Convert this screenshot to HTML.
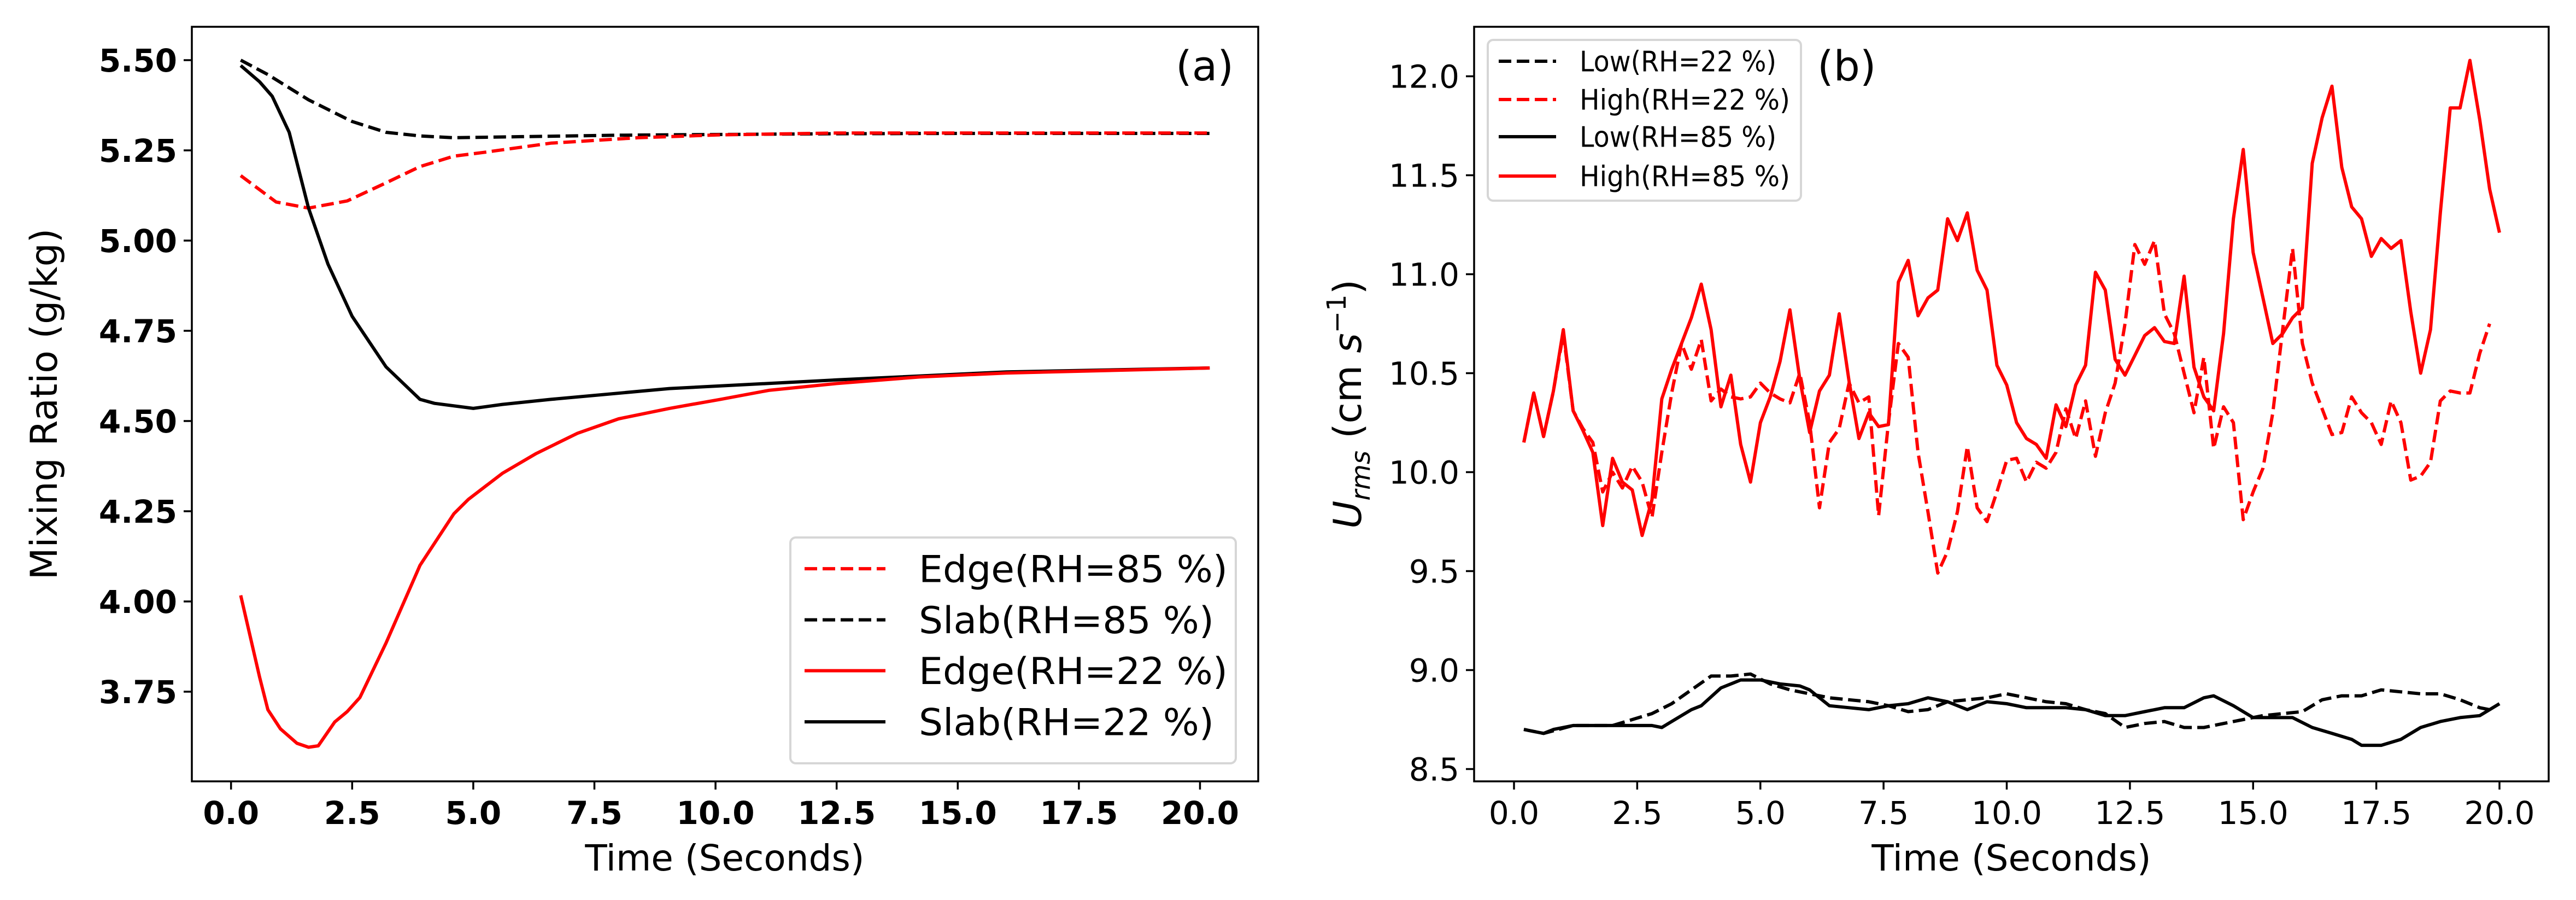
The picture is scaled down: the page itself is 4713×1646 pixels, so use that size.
<!DOCTYPE html>
<html><head><meta charset="utf-8"><style>
html,body{margin:0;padding:0;background:#fff;}
svg{display:block;}
text{font-family:"DejaVu Sans","Liberation Sans",sans-serif;}
</style></head><body>
<svg id="fig" width="4713" height="1646" viewBox="0 0 4713 1646" xmlns="http://www.w3.org/2000/svg"></svg>
<script>
// ---- Panel (a) data ----
const aSlab85T=[0.2,0.76,1.6,2.5,3.2,3.9,4.6,6,8,10,12.5,15,17.5,20.2];
const aSlab85V=[5.50,5.46,5.39,5.33,5.30,5.29,5.285,5.288,5.292,5.294,5.296,5.297,5.297,5.297];
const aEdge85T=[0.2,0.93,1.6,2.4,3.2,3.9,4.6,5.25,6.6,8.4,10.1,12.5,15,17.5,20.2];
const aEdge85V=[5.18,5.107,5.09,5.11,5.16,5.205,5.234,5.245,5.27,5.285,5.293,5.298,5.298,5.298,5.298];
const aSlab22T=[0.2,0.59,0.85,1.2,1.6,2.0,2.5,3.2,3.9,4.2,5.0,5.6,6.6,9.05,12.5,16,20.2];
const aSlab22V=[5.485,5.44,5.40,5.30,5.09,4.935,4.79,4.65,4.56,4.549,4.535,4.546,4.56,4.59,4.614,4.636,4.647];
const aEdge22T=[0.2,0.59,0.76,1.02,1.36,1.6,1.8,2.14,2.4,2.66,3.2,3.9,4.6,4.9,5.6,6.3,7.15,8,9.05,10.1,11.1,12.5,14.2,16,20.2];
const aEdge22V=[4.017,3.79,3.70,3.647,3.607,3.596,3.60,3.666,3.695,3.734,3.885,4.10,4.243,4.283,4.355,4.41,4.466,4.506,4.535,4.56,4.585,4.604,4.622,4.633,4.647];
const aXTicks=[0,2.5,5,7.5,10,12.5,15,17.5,20];
const aXLabels=["0.0","2.5","5.0","7.5","10.0","12.5","15.0","17.5","20.0"];
const aYTicks=[3.75,4.0,4.25,4.5,4.75,5.0,5.25,5.5];
const aYLabels=["3.75","4.00","4.25","4.50","4.75","5.00","5.25","5.50"];
// ---- Panel (b) data ----
const bHigh85=[10.15,10.40,10.18,10.41,10.72,10.31,10.21,10.10,9.73,10.07,9.95,9.91,9.68,9.86,10.37,10.52,10.65,10.78,10.95,10.72,10.33,10.49,10.14,9.95,10.25,10.38,10.56,10.82,10.47,10.20,10.41,10.49,10.80,10.46,10.17,10.30,10.23,10.24,10.96,11.07,10.79,10.88,10.92,11.28,11.17,11.31,11.02,10.92,10.54,10.44,10.25,10.17,10.14,10.07,10.34,10.23,10.44,10.54,11.01,10.92,10.57,10.49,10.59,10.69,10.73,10.66,10.65,10.99,10.53,10.38,10.31,10.70,11.28,11.63,11.11,10.88,10.65,10.70,10.78,10.83,11.56,11.79,11.95,11.54,11.34,11.28,11.09,11.18,11.13,11.17,10.81,10.50,10.72,11.31,11.84,11.84,12.08,11.78,11.43,11.21];
const bHigh22=[10.15,10.40,10.18,10.41,10.70,10.31,10.22,10.15,9.9,10.0,9.92,10.03,9.95,9.77,10.1,10.4,10.65,10.52,10.67,10.36,10.42,10.38,10.37,10.38,10.45,10.40,10.37,10.35,10.5,10.25,9.82,10.15,10.22,10.45,10.35,10.38,9.78,10.25,10.65,10.58,10.1,9.8,9.49,9.6,9.8,10.13,9.82,9.75,9.9,10.06,10.07,9.95,10.05,10.02,10.1,10.32,10.17,10.36,10.08,10.3,10.45,10.75,11.15,11.05,11.17,10.8,10.7,10.5,10.3,10.58,10.12,10.33,10.25,9.76,9.9,10.02,10.3,10.72,11.13,10.65,10.45,10.32,10.19,10.2,10.38,10.3,10.25,10.14,10.36,10.25,9.96,9.98,10.05,10.36,10.41,10.40,10.40,10.60,10.75];
const bLow85T=[0.2,0.6,0.8,1.2,2,2.4,2.8,3.0,3.2,3.6,3.8,4.2,4.6,5.0,5.4,5.8,6.0,6.4,6.8,7.2,7.6,8.0,8.4,8.8,9.2,9.6,10.0,10.4,10.8,11.2,11.6,12.0,12.4,12.8,13.2,13.6,14.0,14.2,14.6,15.0,15.4,15.8,16.2,16.6,17.0,17.2,17.6,18.0,18.4,18.8,19.2,19.6,20.0];
const bLow85V=[8.70,8.68,8.70,8.72,8.72,8.72,8.72,8.71,8.74,8.80,8.82,8.91,8.95,8.95,8.93,8.92,8.90,8.82,8.81,8.80,8.82,8.83,8.86,8.84,8.80,8.84,8.83,8.81,8.81,8.81,8.80,8.77,8.77,8.79,8.81,8.81,8.86,8.87,8.82,8.76,8.76,8.76,8.71,8.68,8.65,8.62,8.62,8.65,8.71,8.74,8.76,8.77,8.83];
const bLow22T=[0.2,0.6,1.2,2.0,2.4,2.8,3.2,3.6,4.0,4.4,4.8,5.2,5.6,6.0,6.4,6.8,7.2,7.6,8.0,8.4,8.8,9.2,9.6,10.0,10.4,10.8,11.2,11.6,12.0,12.4,12.8,13.2,13.6,14.0,14.4,14.8,15.2,15.6,16.0,16.4,16.8,17.2,17.6,18.0,18.4,18.8,19.2,19.6,19.8];
const bLow22V=[8.70,8.68,8.72,8.72,8.75,8.78,8.83,8.90,8.97,8.97,8.98,8.93,8.90,8.88,8.86,8.85,8.84,8.82,8.79,8.80,8.84,8.85,8.86,8.88,8.86,8.84,8.83,8.80,8.78,8.71,8.73,8.74,8.71,8.71,8.73,8.75,8.77,8.78,8.79,8.85,8.87,8.87,8.90,8.89,8.88,8.88,8.85,8.81,8.80];
const bXTicks=[0,2.5,5,7.5,10,12.5,15,17.5,20];
const bXLabels=["0.0","2.5","5.0","7.5","10.0","12.5","15.0","17.5","20.0"];
const bYTicks=[8.5,9.0,9.5,10.0,10.5,11.0,11.5,12.0];
const bYLabels=["8.5","9.0","9.5","10.0","10.5","11.0","11.5","12.0"];

const NS="http://www.w3.org/2000/svg";
const svg=document.getElementById('fig');
function mk(tag,attrs,parent){const e=document.createElementNS(NS,tag);for(const k in attrs)e.setAttribute(k,attrs[k]);(parent||svg).appendChild(e);return e;}

const A={x0:351,x1:2302,y0:49,y1:1429,xs:v=>422.7+v*88.64,ys:v=>110+(5.5-v)*660};
const B={x0:2697,x1:4663,y0:49,y1:1429,xs:v=>2770+v*90.15,ys:v=>139.5+(12-v)*362};

function line(ax,ts,vs,color,dashed,name){
  const d=ts.map((t,i)=>(i?'L':'M')+ax.xs(t).toFixed(1)+' '+ax.ys(vs[i]).toFixed(1)).join(' ');
  const p=mk('path',{d:d,fill:'none',stroke:color,'stroke-width':6,'stroke-linejoin':'round'});
  if(dashed)p.setAttribute('stroke-dasharray','23 10');
  
  
}
function axes(ax,xt,xl,yt,yl,bold,pfx){
  const g=mk('g',{});
  
  
  xt.forEach((v,i)=>{const x=ax.xs(v);
    mk('line',{x1:x,x2:x,y1:ax.y1,y2:ax.y1+15,stroke:'#000','stroke-width':3.5},g);
    const t=mk('text',{x:x,y:ax.y1+78,'text-anchor':'middle','font-size':58,'font-weight':bold?'bold':'normal'},g);
    t.textContent=xl[i];
    
    });
  yt.forEach((v,i)=>{const y=ax.ys(v);
    mk('line',{x1:ax.x0-15,x2:ax.x0,y1:y,y2:y,stroke:'#000','stroke-width':3.5},g);
    const t=mk('text',{x:ax.x0-27,y:y+21,'text-anchor':'end','font-size':58,'font-weight':bold?'bold':'normal'},g);
    t.textContent=yl[i];
    
    });
}
axes(A,aXTicks,aXLabels,aYTicks,aYLabels,true,'a');
axes(B,bXTicks,bXLabels,bYTicks,bYLabels,false,'b');

line(A,aSlab85T,aSlab85V,'#000',true,'slab-rh85-line');
line(A,aEdge85T,aEdge85V,'#f00',true,'edge-rh85-line');
line(A,aSlab22T,aSlab22V,'#000',false,'slab-rh22-line');
line(A,aEdge22T,aEdge22V,'#f00',false,'edge-rh22-line');
const hT=bHigh85.map((v,i)=>0.2*(i+1));
const h2T=bHigh22.map((v,i)=>0.2*(i+1));
line(B,bLow22T,bLow22V,'#000',true,'low-rh22-line');
line(B,h2T,bHigh22,'#f00',true,'high-rh22-line');
line(B,bLow85T,bLow85V,'#000',false,'low-rh85-line');
line(B,hT,bHigh85,'#f00',false,'high-rh85-line');

[[A,'a-frame'],[B,'b-frame']].forEach(([ax,n])=>{const r=mk('rect',{x:ax.x0,y:ax.y0,width:ax.x1-ax.x0,height:ax.y1-ax.y0,fill:'none',stroke:'#000','stroke-width':3.5});

});

function legend(x,y,w,h,rows,lx0,lx1,tx,fs,name){
  const g=mk('g',{});
  
  
  mk('rect',{x:x,y:y,width:w,height:h,rx:10,fill:'#fff','fill-opacity':0.8,stroke:'#d6d6d6','stroke-width':4},g);
  rows.forEach(r=>{
    const l=mk('line',{x1:lx0,x2:lx1,y1:r[0],y2:r[0],stroke:r[1],'stroke-width':6},g);
    if(r[2])l.setAttribute('stroke-dasharray','23 10');
    const t=mk('text',{x:tx,y:r[0]+fs*0.36,'font-size':fs,textLength:r[4],lengthAdjust:'spacingAndGlyphs'},g);
    t.textContent=r[3];
    
    
  });
}
legend(1446,983,815,413,[[1085,'#f00',true,'Edge(RH=85 %)',565],[1252,'#000',true,'Slab(RH=85 %)',540],[1418,'#f00',false,'Edge(RH=22 %)',565],[1585,'#000',false,'Slab(RH=22 %)',540]].map(r=>[983+(r[0]-983)*0.56,r[1],r[2],r[3],r[4]]),1472,1620,1681,68,'legend-a');
legend(2722,73,573,294,[[112,'#000',true,'Low(RH=22 %)',360],[182,'#f00',true,'High(RH=22 %)',385],[250,'#000',false,'Low(RH=85 %)',360],[322,'#f00',false,'High(RH=85 %)',385]],2742,2847,2890,52,'legend-b');

function txt(s,attrs,name){const t=mk('text',attrs);t.textContent=s;

return t;}
txt('(a)',{x:2257,y:147,'text-anchor':'end','font-size':76},'panel-a-label');
txt('(b)',{x:3325,y:147,'font-size':76},'panel-b-label');
txt('Time (Seconds)',{x:1326,y:1592,'text-anchor':'middle','font-size':66},'x-axis-title-a');
txt('Time (Seconds)',{x:3680,y:1592,'text-anchor':'middle','font-size':66},'x-axis-title-b');
txt('Mixing Ratio (g/kg)',{x:0,y:0,'text-anchor':'middle','font-size':68,transform:'translate(104,739) rotate(-90)'},'y-axis-title-a');
const yl=txt('',{x:0,y:0,'text-anchor':'middle','font-size':70,transform:'translate(2490,739) rotate(-90)'},'y-axis-title-b');
yl.innerHTML='<tspan font-style="italic">U</tspan><tspan font-style="italic" font-size="48" dy="16">rms</tspan><tspan dy="-16">  (cm </tspan><tspan font-style="italic">s</tspan><tspan font-size="48" dy="-28">−1</tspan><tspan dy="28">)</tspan>';
</script>
</body></html>
